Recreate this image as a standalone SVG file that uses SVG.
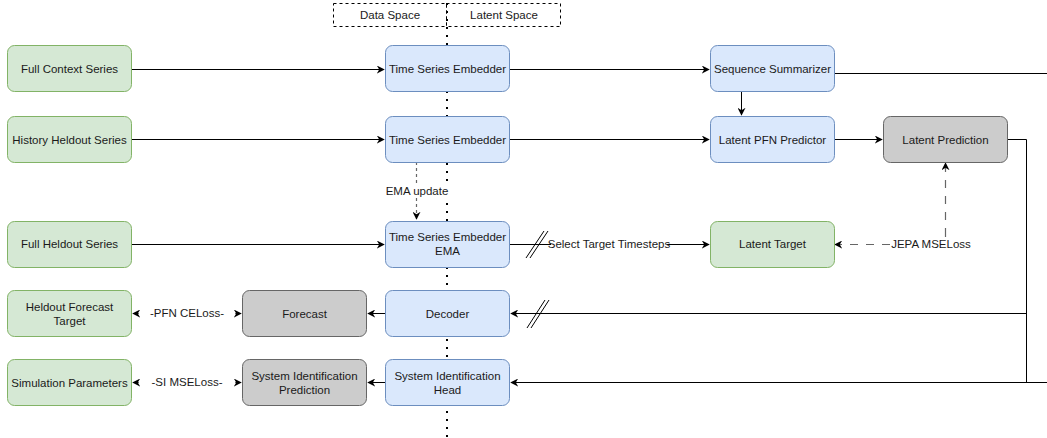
<svg xmlns="http://www.w3.org/2000/svg" width="1047" height="438" viewBox="0 0 1047 438">
<style>
text{font-family:"Liberation Sans",Arial,sans-serif;font-size:11.5px;fill:#1a1a1a;text-anchor:middle;dominant-baseline:central}
.g{fill:#d5e8d4;stroke:#82b366;stroke-width:1}
.b{fill:#dae8fc;stroke:#6c8ebf;stroke-width:1}
.k{fill:#cccccc;stroke:#666666;stroke-width:1}
.e{fill:none;stroke:#000;stroke-width:1}
.d{fill:none;stroke:#666;stroke-width:1.2;stroke-dasharray:8 8}
.lbl{fill:#fff;stroke:none}
</style>
<defs>
<marker id="a" viewBox="0 0 10 10" refX="9" refY="5" markerWidth="8" markerHeight="8" orient="auto" markerUnits="userSpaceOnUse">
<path d="M0,0 L10,5 L0,10 L3,5 Z" fill="#000"/>
</marker>
</defs>
<rect width="1047" height="438" fill="#fff"/>

<g id="space-divider">
<rect x="333.5" y="3.5" width="113" height="23" fill="none" stroke="#000" stroke-dasharray="3 3"/>
<rect x="446.5" y="3.5" width="114" height="23" fill="none" stroke="#000" stroke-dasharray="3 3"/>
<text x="390" y="15">Data Space</text>
<text x="504" y="15">Latent Space</text>
<line x1="447" y1="3" x2="447" y2="438" stroke="#000" stroke-width="2" stroke-dasharray="2 6"/>
</g>

<g id="connectors">
<path class="e" d="M132,69.5 H384" marker-end="url(#a)"/>
<path class="e" d="M510,69.5 H709" marker-end="url(#a)"/>
<path class="e" d="M834,73.5 H1047"/>
<path class="e" d="M741.5,92 V115" marker-end="url(#a)"/>
<path class="e" d="M132,139.5 H384" marker-end="url(#a)"/>
<path class="e" d="M510,139.5 H709" marker-end="url(#a)"/>
<path class="e" d="M834,139.5 H882" marker-end="url(#a)"/>
<path class="e" d="M1007,139.5 H1026.5 V382.5"/>
<path fill="none" stroke="#666" stroke-width="1.2" stroke-dasharray="3 3" d="M416.5,162 V184"/>
<path fill="none" stroke="#666" stroke-width="1.2" stroke-dasharray="3 3" d="M416.5,198 V219" marker-end="url(#a)"/>
<rect class="lbl" x="382" y="184" width="70" height="13"/>
<text x="417" y="190.5">EMA update</text>
<path class="e" d="M132,244.5 H384" marker-end="url(#a)"/>
<path class="e" d="M510,244.5 H709" marker-end="url(#a)"/>
<line x1="526" y1="258" x2="544" y2="231" stroke="#000"/>
<line x1="530" y1="258" x2="548" y2="231" stroke="#000"/>
<rect class="lbl" x="551" y="237" width="116" height="14"/>
<text x="609" y="244">Select Target Timesteps</text>
<path class="d" d="M945.5,236 V163" marker-end="url(#a)"/>
<path class="d" d="M945.5,236 V244.5 H835" marker-end="url(#a)"/>
<rect class="lbl" x="893" y="237" width="76" height="14"/>
<text x="931" y="244">JEPA MSELoss</text>
<path class="e" d="M1026.5,313.5 H511" marker-end="url(#a)"/>
<line x1="527" y1="328" x2="545" y2="300" stroke="#000"/>
<line x1="531" y1="328" x2="549" y2="300" stroke="#000"/>
<path class="e" d="M1047,382.5 H511" marker-end="url(#a)"/>
<path class="e" d="M385,313.5 H368" marker-end="url(#a)"/>
<path class="e" d="M385,382.5 H368" marker-end="url(#a)"/>
<path class="d" d="M187,313.5 H133" marker-end="url(#a)"/>
<path class="d" d="M187,313.5 H241" marker-end="url(#a)"/>
<rect class="lbl" x="145" y="306" width="84" height="14"/>
<text x="187" y="313">-PFN CELoss-</text>
<path class="d" d="M187,382.5 H133" marker-end="url(#a)"/>
<path class="d" d="M187,382.5 H241" marker-end="url(#a)"/>
<rect class="lbl" x="145" y="375" width="84" height="14"/>
<text x="187" y="382">-SI MSELoss-</text>
</g>

<g id="full-context-series"><rect class="g" x="7.5" y="45.5" width="124" height="46" rx="7"/><text x="69.5" y="69">Full Context Series</text></g>
<g id="history-heldout-series"><rect class="g" x="7.5" y="116.5" width="124" height="46" rx="7"/><text x="69.5" y="139.5">History Heldout Series</text></g>
<g id="full-heldout-series"><rect class="g" x="7.5" y="221.5" width="124" height="46" rx="7"/><text x="69.5" y="244">Full Heldout Series</text></g>
<g id="heldout-forecast-target"><rect class="g" x="7.5" y="290.5" width="124" height="46" rx="7"/><text x="69.5" y="306.5">Heldout Forecast</text><text x="69.5" y="321">Target</text></g>
<g id="simulation-parameters"><rect class="g" x="7.5" y="359.5" width="124" height="46" rx="7"/><text x="69.5" y="383">Simulation Parameters</text></g>

<g id="forecast"><rect class="k" x="242.5" y="290.5" width="124" height="46" rx="7"/><text x="304.5" y="314">Forecast</text></g>
<g id="si-prediction"><rect class="k" x="242.5" y="359.5" width="124" height="46" rx="7"/><text x="304.5" y="376">System Identification</text><text x="304.5" y="390">Prediction</text></g>

<g id="embedder-1"><rect class="b" x="385.5" y="45.5" width="124" height="46" rx="7"/><text x="447.5" y="69">Time Series Embedder</text></g>
<g id="embedder-2"><rect class="b" x="385.5" y="116.5" width="124" height="46" rx="7"/><text x="447.5" y="139.5">Time Series Embedder</text></g>
<g id="embedder-ema"><rect class="b" x="385.5" y="221.5" width="124" height="46" rx="7"/><text x="447.5" y="237">Time Series Embedder</text><text x="447.5" y="251">EMA</text></g>
<g id="decoder"><rect class="b" x="385.5" y="290.5" width="124" height="46" rx="7"/><text x="447.5" y="314">Decoder</text></g>
<g id="si-head"><rect class="b" x="385.5" y="359.5" width="124" height="46" rx="7"/><text x="447.5" y="376">System Identification</text><text x="447.5" y="390">Head</text></g>

<g id="sequence-summarizer"><rect class="b" x="710.5" y="45.5" width="124" height="46" rx="7"/><text x="772.5" y="69">Sequence Summarizer</text></g>
<g id="latent-pfn-predictor"><rect class="b" x="710.5" y="116.5" width="124" height="46" rx="7"/><text x="772.5" y="139.5">Latent PFN Predictor</text></g>
<g id="latent-target"><rect class="g" x="710.5" y="221.5" width="124" height="46" rx="7"/><text x="772.5" y="244">Latent Target</text></g>
<g id="latent-prediction"><rect class="k" x="883.5" y="116.5" width="124" height="46" rx="7"/><text x="945.5" y="139.5">Latent Prediction</text></g>
</svg>
